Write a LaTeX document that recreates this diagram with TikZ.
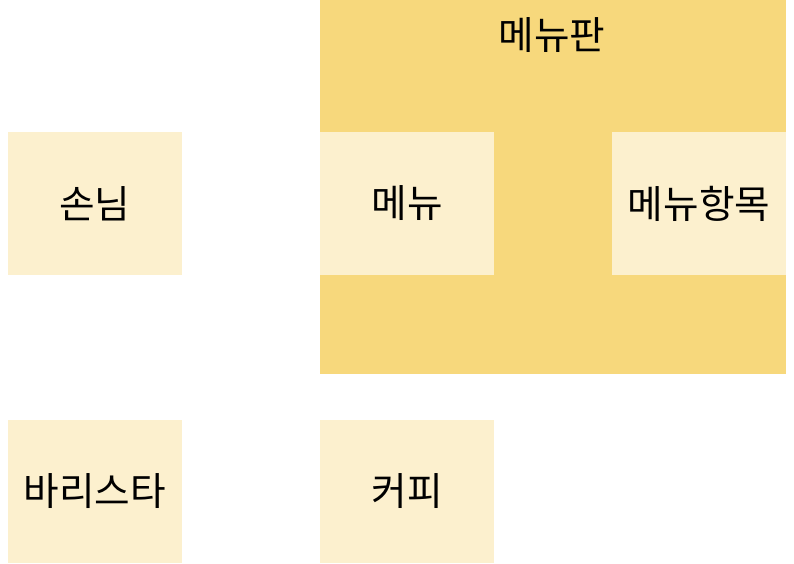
\documentclass[tikz,border=0pt]{standalone}
\usepackage{fontspec}
\setmainfont{Noto Sans CJK KR}
\definecolor{boardfill}{HTML}{F7D87C}
\definecolor{itemfill}{HTML}{FCF0CE}
\tikzset{
  label font/.style={font=\fontsize{29}{34}\selectfont},
  item/.style={fill=itemfill, minimum width=130.5pt, minimum height=107.25pt, inner sep=0pt, label font},
}
\begin{document}
\begin{tikzpicture}[x=0.75pt,y=-0.75pt]
\useasboundingbox (0,0) rectangle (794,564);
\fill[boardfill] (320,0) rectangle (786,374);
\node[label font] (board) at (552,35) {메뉴판};

\node[item] (guest) at (95,203.5) {손님};
\node[item] (menu) at (407,203.5) {메뉴};
\node[item] (menuitem) at (699,203.5) {메뉴항목};

\node[item] (barista) at (95,491.5) {바리스타};
\node[item] (coffee) at (407,491.5) {커피};
\end{tikzpicture}
\end{document}
